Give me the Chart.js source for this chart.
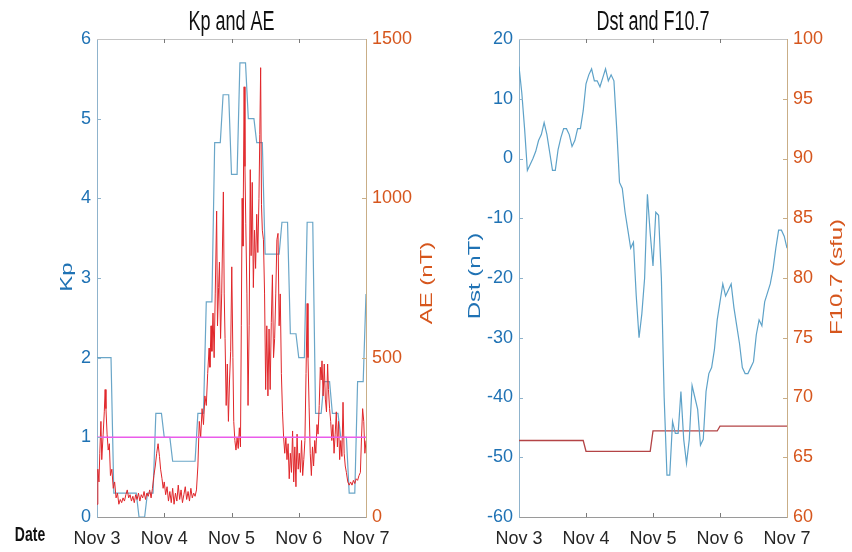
<!DOCTYPE html>
<html>
<head>
<meta charset="utf-8">
<script src="https://cdn.jsdelivr.net/npm/chart.js@4"></script>
<style>
  html, body { margin: 0; padding: 0; background: #fff; }
  #wrap { position: relative; width: 852px; height: 552px; }
  #wrap canvas { position: absolute; top: 0; }
  #kpChart { left: 0; }
  #dstChart { left: 440px; }
</style>
</head>
<body>
<div id="wrap">
  <canvas id="kpChart" width="440" height="552"></canvas>
  <canvas id="dstChart" width="412" height="552"></canvas>
</div>
<script>
// x axis is hours since Nov 3 00 UT
const dateLabels = ["Nov 3", "Nov 4", "Nov 5", "Nov 6", "Nov 7"];

// Kp, one value per 3-hour block (last entry = first block of Nov 7)
const kpBlocks = [2.0, 2.0, 0.3, 0.3, 0.3, 0, 0.3, 1.3, 1.0, 0.7, 0.7, 0.7, 1.3, 2.7, 4.7, 5.3,
  4.3, 5.7, 5.0, 4.7, 3.3, 3.3, 3.7, 2.3, 2.0, 3.7, 1.3, 1.7, 1.3, 1.0, 0.3, 1.7, 2.8];
const kpThreshold = 1;

// AE index (nT)
const aeHours = [0, 0.3, 0.7, 1.0, 1.4, 1.7, 2.2, 2.6, 2.9, 3.2, 3.6, 4.0, 4.4, 4.8, 5.3, 5.8,
  6.3, 6.8, 7.3, 7.8, 8.3, 8.8, 9.3, 9.8, 10.3, 10.8, 11.3, 11.8, 12.3, 12.8, 13.3, 13.8,
  14.3, 14.8, 15.3, 15.8, 16.3, 16.8, 17.3, 17.8, 18.3, 18.8, 19.3, 19.8, 20.3, 20.8, 21.3, 21.8,
  22.3, 22.7, 23.2, 23.6, 24.0, 24.5, 25.0, 25.5, 26.0, 26.5, 27.0, 27.5, 28.0, 28.5, 29.0, 29.5,
  30.0, 30.5, 31.0, 31.5, 32.0, 32.5, 33.0, 33.5, 34.0, 34.5, 35.0, 35.5, 36.0, 36.5, 37.0, 37.5,
  38.0, 38.5, 39.0, 39.5, 40.0, 40.3, 40.7, 41.0, 41.4, 41.8, 42.2, 42.7, 43.0, 43.4, 43.7, 44.1,
  44.5, 45.1, 45.4, 45.7, 46.1, 46.5, 46.9, 47.3, 47.7, 48.1, 48.5, 48.8, 49.2, 49.6, 50.0, 50.4,
  50.8, 51.2, 51.5, 51.8, 52.1, 52.5, 52.8, 53.1, 53.5, 53.9, 54.3, 54.7, 55.0, 55.4, 55.8, 56.2,
  56.6, 57.0, 57.4, 57.8, 58.1, 58.4, 58.7, 59.0, 59.4, 59.8, 60.2, 60.6, 61.0, 61.4, 61.8, 62.2,
  62.6, 63.0, 63.4, 63.8, 64.2, 64.6, 65.0, 65.4, 65.8, 66.2, 66.6, 67.0, 67.4, 67.8, 68.2, 68.6,
  69.0, 69.4, 69.8, 70.2, 70.6, 71.0, 71.4, 71.8, 72.2, 72.6, 73.0, 73.4, 73.8, 74.2, 74.6, 75.0,
  75.3, 75.7, 76.1, 76.5, 76.9, 77.3, 77.7, 78.1, 78.5, 78.9, 79.3, 79.7, 80.0, 80.3, 80.7, 81.1,
  81.5, 81.9, 82.3, 82.6, 83.0, 83.4, 83.8, 84.2, 84.6, 85.0, 85.4, 85.8, 86.2, 86.6, 87.0, 87.4,
  87.8, 88.2, 88.6, 89.0, 89.5, 90.0, 90.5, 91.0, 91.5, 92.0, 92.5, 93.0, 93.5, 94.0, 94.4, 94.8,
  95.2, 95.6, 96.0];
const aeValues = [40, 150, 110, 200, 300, 180, 260, 330, 400, 340, 260, 210, 230, 130, 150, 90,
  110, 60, 75, 40, 55, 45, 60, 50, 70, 85, 60, 70, 50, 65, 45, 70,
  55, 75, 50, 70, 60, 80, 55, 75, 65, 85, 60, 90, 130, 160, 200, 230,
  190, 150, 120, 90, 110, 70, 95, 50, 80, 45, 90, 40, 75, 50, 100, 55,
  85, 45, 70, 95, 55, 80, 50, 90, 60, 75, 65, 85, 160, 300, 250, 340,
  290, 380, 350, 450, 530, 470, 600, 520, 640, 500, 700, 960, 600, 720, 800, 560,
  700, 1020, 700, 560, 350, 480, 300, 430, 520, 785, 500, 300, 240, 210, 250, 215,
  280, 220, 600, 1000, 850, 1350, 1100, 920, 700, 350, 600, 1090, 820, 1050, 720, 900,
  780, 950, 830, 1000, 1200, 1410, 980, 900, 870, 700, 400, 600, 380, 590, 400, 610,
  760, 500, 560, 700, 870, 890, 600, 700, 450, 330, 250, 200, 250, 180, 230, 120,
  200, 140, 270, 110, 220, 95, 260, 150, 200, 140, 240, 130, 180, 240, 450, 670,
  500, 345, 200, 130, 220, 160, 240, 200, 290, 260, 350, 470, 430, 490, 380, 480,
  370, 330, 480, 400, 340, 300, 240, 290, 200, 260, 330, 220, 300, 180, 240, 190,
  360, 200, 160, 140, 110, 100, 110, 100, 115, 105, 120, 115, 130, 140, 250, 340,
  300, 200, 240];

// Dst (nT), hourly from Nov 3 00 UT to Nov 7 00 UT
const dstValues = [15.4, 11, 5, -2, -1, 0, 1.2, 3, 4, 6, 4, 1, -2, -2, 1.5, 3.5, 5, 5, 4, 2,
  3, 5, 5, 8, 12.5, 14, 15, 13, 13, 12, 13.5, 15, 13, 14, 13, 5, -4, -5, -9, -12,
  -15, -14, -23, -30, -26, -20, -6, -12.5, -18, -9, -9.5, -20, -40, -53, -53, -44, -46, -46, -39, -47,
  -51, -47, -38, -40, -42, -48, -47, -39, -36, -35, -32, -27, -24, -21, -23, -22, -21, -25, -28, -31,
  -35, -36, -36, -35, -34, -29.5, -27, -28, -24, -22.5, -21, -18.5, -15, -12, -12, -13, -15];

// F10.7 (sfu), daily values Nov 3..Nov 6
const f107Daily = [66.4, 65.5, 67.2, 67.6];

const FONT = "'Liberation Sans', Arial, Helvetica, sans-serif";
const BLUE = "#1f72b4";
const ORANGE = "#d6561d";
const STRETCH = 1.5;

const hours = dstValues.map((_, i) => i);
const kpHourly = hours.map((h) => ({ x: h, y: kpBlocks[Math.floor(h / 3)] }));
const aePoints = aeHours.map((h, i) => ({ x: h, y: aeValues[i] }));
const dstPoints = dstValues.map((v, i) => ({ x: i, y: v }));
const f107Points = hours.map((h) => ({ x: h, y: f107Daily[Math.min(f107Daily.length - 1, Math.floor(h / 24))] }));

// text drawn a bit taller than wide, like the stretched original figure
const panelText = {
  id: "panelText",
  afterDraw(chart, args, opts) {
    const ctx = chart.ctx;
    const area = chart.chartArea;
    (opts.items || []).forEach((it) => {
      ctx.save();
      ctx.translate(it.x === "center" ? (area.left + area.right) / 2 : it.x, it.y);
      if (it.rotate) {
        ctx.rotate(-Math.PI / 2);
        ctx.scale(STRETCH, 1);
      } else {
        ctx.scale(1, STRETCH);
      }
      ctx.font = (it.bold ? "bold " : "") + it.size + "px " + FONT;
      ctx.fillStyle = it.color;
      ctx.textAlign = "center";
      ctx.textBaseline = "middle";
      ctx.fillText(it.text, 0, 0);
      ctx.restore();
    });
  },
};

// top box line and inward tick marks, matlab style
const boxTicks = {
  id: "boxTicks",
  afterDraw(chart) {
    const ctx = chart.ctx;
    const a = chart.chartArea;
    const sx = chart.scales.x, sy = chart.scales.y, sy1 = chart.scales.y1;
    ctx.save();
    ctx.lineWidth = 1;
    ctx.strokeStyle = "#c4c4c4";
    ctx.beginPath();
    ctx.moveTo(a.left, a.top + 0.5);
    ctx.lineTo(a.right, a.top + 0.5);
    ctx.stroke();
    ctx.strokeStyle = "#7a7a7a";
    sx.ticks.forEach((t) => {
      if (t.value <= sx.min || t.value >= sx.max) return;
      const px = Math.round(sx.getPixelForValue(t.value)) + 0.5;
      ctx.beginPath();
      ctx.moveTo(px, a.bottom);
      ctx.lineTo(px, a.bottom - 4);
      ctx.moveTo(px, a.top);
      ctx.lineTo(px, a.top + 4);
      ctx.stroke();
    });
    ctx.strokeStyle = "#8fb3cc";
    sy.ticks.forEach((t) => {
      if (t.value <= sy.min || t.value >= sy.max) return;
      const py = Math.round(sy.getPixelForValue(t.value)) + 0.5;
      ctx.beginPath();
      ctx.moveTo(a.left, py);
      ctx.lineTo(a.left + 4, py);
      ctx.stroke();
    });
    ctx.strokeStyle = "#c9ae87";
    sy1.ticks.forEach((t) => {
      if (t.value <= sy1.min || t.value >= sy1.max) return;
      const py = Math.round(sy1.getPixelForValue(t.value)) + 0.5;
      ctx.beginPath();
      ctx.moveTo(a.right, py);
      ctx.lineTo(a.right - 4, py);
      ctx.stroke();
    });
    ctx.restore();
  },
};

function xScale() {
  return {
    type: "linear",
    min: 0,
    max: 96,
    afterBuildTicks: (s) => { s.ticks = dateLabels.map((_, i) => ({ value: i * 24 })); },
    ticks: {
      callback: (v) => dateLabels[v / 24],
      color: "#262626",
      font: { family: FONT, size: 18 },
      padding: 11,
      maxRotation: 0,
      autoSkip: false,
    },
    grid: { display: false, drawTicks: false, tickLength: 0 },
    border: { display: true, color: "#9a9a9a" },
    afterFit: (s) => { s.height = 35; },
  };
}

function yScale(pos, min, max, step, color, borderColor, width) {
  return {
    type: "linear",
    position: pos,
    min,
    max,
    ticks: { stepSize: step, color, font: { family: FONT, size: 18 }, padding: 6, callback: (v) => String(v) },
    grid: { display: false, drawOnChartArea: false, drawTicks: false, tickLength: 0 },
    border: { display: true, color: borderColor },
    afterFit: (s) => { s.width = width; },
  };
}

const lineBase = { pointRadius: 0, tension: 0, fill: false };

new Chart(document.getElementById("kpChart"), {
  type: "line",
  data: {
    datasets: [
      { ...lineBase, label: "Kp = 1", data: [{ x: 0, y: kpThreshold }, { x: 96, y: kpThreshold }], borderColor: "#ea5cea", borderWidth: 1.5, yAxisID: "y" },
      { ...lineBase, label: "AE", data: aePoints, borderColor: "#e0262a", borderWidth: 1, yAxisID: "y1" },
      { ...lineBase, label: "Kp", data: kpHourly, borderColor: "#6aa6c8", borderWidth: 1.2, yAxisID: "y" },
    ],
  },
  options: {
    responsive: false,
    animation: false,
    devicePixelRatio: 1,
    layout: { padding: { top: 39, left: 0, right: 0, bottom: 0 } },
    scales: {
      x: xScale(),
      y: yScale("left", 0, 6, 1, BLUE, "#8fb3cc", 97),
      y1: yScale("right", 0, 1500, 500, ORANGE, "#c9ae87", 74),
    },
    plugins: {
      legend: { display: false },
      tooltip: { enabled: false },
      panelText: {
        items: [
          { text: "Kp and AE", x: "center", y: 23, size: 18, color: "#111" },
          { text: "Kp", x: 68, y: 277, size: 16, color: BLUE, rotate: true },
          { text: "AE (nT)", x: 428, y: 283, size: 16, color: ORANGE, rotate: true },
          { text: "Date", x: 30, y: 535, size: 14, color: "#111", bold: true },
        ],
      },
    },
  },
  plugins: [panelText, boxTicks],
});

new Chart(document.getElementById("dstChart"), {
  type: "line",
  data: {
    datasets: [
      { ...lineBase, label: "Dst", data: dstPoints, borderColor: "#5ea2c8", borderWidth: 1.2, yAxisID: "y" },
      { ...lineBase, label: "F10.7", data: f107Points, borderColor: "#b44446", borderWidth: 1.3, yAxisID: "y1" },
    ],
  },
  options: {
    responsive: false,
    animation: false,
    devicePixelRatio: 1,
    layout: { padding: { top: 39, left: 0, right: 0, bottom: 0 } },
    scales: {
      x: xScale(),
      y: yScale("left", -60, 20, 10, BLUE, "#8fb3cc", 79),
      y1: yScale("right", 60, 100, 5, ORANGE, "#c9ae87", 65),
    },
    plugins: {
      legend: { display: false },
      tooltip: { enabled: false },
      panelText: {
        items: [
          { text: "Dst and F10.7", x: "center", y: 23, size: 18, color: "#111" },
          { text: "Dst (nT)", x: 36, y: 276, size: 16, color: BLUE, rotate: true },
          { text: "F10.7 (sfu)", x: 398, y: 277, size: 16, color: ORANGE, rotate: true },
        ],
      },
    },
  },
  plugins: [panelText, boxTicks],
});
</script>
</body>
</html>
